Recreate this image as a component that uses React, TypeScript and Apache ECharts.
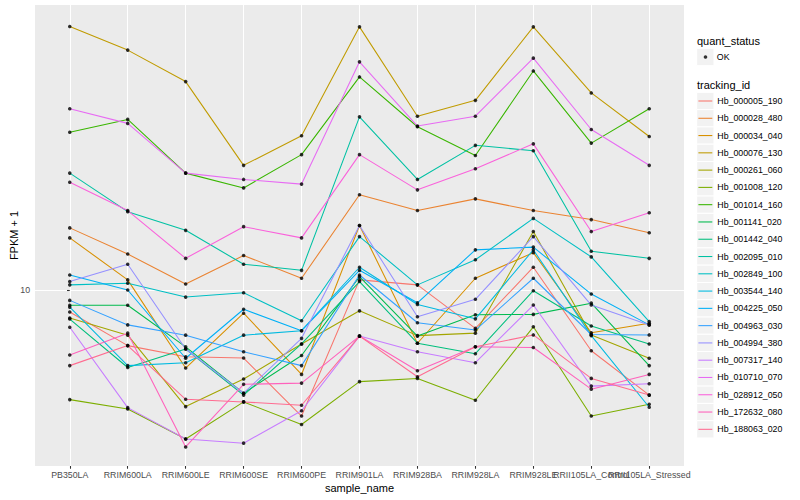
import React, { useEffect, useRef } from "react";
import * as echarts from "echarts";

// ---------- data ----------
const categories = [
  "PB350LA", "RRIM600LA", "RRIM600LE", "RRIM600SE", "RRIM600PE", "RRIM901LA",
  "RRIM928BA", "RRIM928LA", "RRIM928LE", "RRII105LA_Control", "RRII105LA_Stressed",
];

const trackingIds = [
  "Hb_000005_190", "Hb_000028_480", "Hb_000034_040", "Hb_000076_130", "Hb_000261_060",
  "Hb_001008_120", "Hb_001014_160", "Hb_001141_020", "Hb_001442_040", "Hb_002095_010",
  "Hb_002849_100", "Hb_003544_140", "Hb_004225_050", "Hb_004963_030", "Hb_004994_380",
  "Hb_007317_140", "Hb_010710_070", "Hb_028912_050", "Hb_172632_080", "Hb_188063_020",
];

const quantStatus = ["OK"];
const yTickValues = [10];

// FPKM + 1 per sample (same order as categories)
const Hb_000005_190 = [8.81, 7.26, 6.81, 6.76, 4.84, 10.6, 10.3, 8.02, 11.4, 7.05, 5.46];
const Hb_000028_480 = [14.3, 12.3, 10.35, 12.2, 10.7, 17.3, 15.8, 16.9, 15.8, 15.0, 13.9];
const Hb_000034_040 = [13.5, 10.6, 6.38, 8.75, 6.15, 14.5, 7.36, 10.7, 12.4, 7.82, 8.26];
const Hb_000076_130 = [45.6, 39.8, 33.2, 20.5, 24.3, 45.5, 27.2, 29.8, 45.5, 31.1, 24.2];
const Hb_000261_060 = [8.51, 7.71, 5.11, 5.99, 7.33, 8.87, 7.69, 7.8, 14.0, 7.72, 6.75];
const Hb_001008_120 = [5.32, 5.04, 4.24, 5.25, 4.61, 5.9, 6.01, 5.3, 8.09, 4.84, 5.18];
const Hb_001014_160 = [24.8, 26.7, 19.6, 18.0, 21.8, 34.1, 25.6, 21.7, 35.3, 23.3, 28.4];
const Hb_001141_020 = [9.16, 9.16, 7.21, 5.52, 6.86, 10.8, 7.67, 8.67, 8.69, 9.27, 6.47];
const Hb_001442_040 = [8.46, 6.4, 7.12, 5.46, 7.33, 10.5, 7.36, 6.93, 9.96, 8.13, 7.33];
const Hb_002095_010 = [19.6, 15.7, 14.1, 11.6, 11.2, 27.1, 18.9, 23.0, 22.3, 12.5, 12.0];
const Hb_002849_100 = [10.3, 10.4, 9.6, 9.84, 8.38, 13.6, 10.3, 11.9, 15.1, 12.1, 8.34];
const Hb_003544_140 = [9.06, 6.47, 6.58, 7.71, 7.91, 11.4, 9.2, 8.47, 12.6, 7.69, 5.09];
const Hb_004225_050 = [10.9, 10.0, 6.75, 8.95, 7.91, 11.2, 9.29, 12.6, 12.8, 9.77, 8.18];
const Hb_004963_030 = [9.42, 8.18, 7.71, 7.01, 6.47, 10.9, 8.28, 7.94, 10.7, 7.74, 7.72];
const Hb_004994_380 = [10.5, 11.6, 7.12, 5.52, 7.57, 14.5, 8.57, 9.48, 13.6, 9.17, 8.18];
const Hb_007317_140 = [8.07, 5.08, 4.24, 4.14, 4.99, 7.67, 7.01, 6.58, 9.17, 5.75, 5.83];
const Hb_010710_070 = [28.4, 26.1, 19.6, 18.9, 18.4, 37.2, 25.7, 27.2, 38.0, 25.2, 20.5];
const Hb_028912_050 = [18.6, 15.8, 12.0, 14.4, 13.5, 21.8, 17.8, 20.1, 23.2, 14.0, 15.6];
const Hb_172632_080 = [6.88, 7.8, 4.05, 5.81, 5.85, 7.67, 6.28, 7.21, 7.18, 5.65, 6.15];
const Hb_188063_020 = [6.47, 7.26, 5.33, 5.25, 5.15, 7.67, 6.07, 7.21, 7.72, 6.01, 5.46];

const seriesValues = [
  Hb_000005_190, Hb_000028_480, Hb_000034_040, Hb_000076_130, Hb_000261_060,
  Hb_001008_120, Hb_001014_160, Hb_001141_020, Hb_001442_040, Hb_002095_010,
  Hb_002849_100, Hb_003544_140, Hb_004225_050, Hb_004963_030, Hb_004994_380,
  Hb_007317_140, Hb_010710_070, Hb_028912_050, Hb_172632_080, Hb_188063_020,
];

// ---------- styles ----------
const colors = [
  "#F8766D", "#EA8331", "#D89000", "#C09B00", "#A3A500", "#7CAE00", "#39B600",
  "#00BB4E", "#00BF7D", "#00C1A3", "#00BFC4", "#00BAE0", "#00B0F6", "#35A2FF",
  "#9590FF", "#C77CFF", "#E76BF3", "#FA62DB", "#FF62BC", "#FF6C91",
];

const FONT = "'Liberation Sans', Arial, Helvetica, sans-serif";

export default function App() {
  const ref = useRef<HTMLDivElement>(null);

  useEffect(() => {
    if (!ref.current) return;
    const chart = echarts.init(ref.current, null, { renderer: "svg" });

    const catIdx = categories.map((_, i) => i);
    // labels split over two stacked (identical) x axes so that neighbouring
    // long labels may overlap, as in the reference, without being hidden
    const evenIdx = catIdx.filter((i) => i % 2 === 0);
    const oddIdx = catIdx.filter((i) => i % 2 === 1);
    const rowH = 17.28;
    const firstRow = 101;
    const okRow = 57;
    const keyX = 696.7;

    const lineSeries = trackingIds.map((id, k) => ({
      name: id,
      type: "line",
      color: colors[k],
      xAxisIndex: 0,
      data: seriesValues[k].map((v, i) => [i, v]),
      showSymbol: false,
      symbol: "none",
      lineStyle: { color: colors[k], width: 1.07 },
      silent: true,
      z: 2,
    }));

    const points = seriesValues.flatMap((arr) => arr.map((v, i) => [i, v]));

    const keyRects = trackingIds.map((_, k) => ({
      type: "rect",
      shape: { x: keyX, y: firstRow + k * rowH - rowH / 2, width: rowH, height: rowH },
      style: { fill: "#F2F2F2", stroke: "#FFFFFF", lineWidth: 1 },
      silent: true,
    }));

    const labelStyle = {
      formatter: (v: number) => categories[Math.round(v)] ?? "",
      color: "#4D4D4D",
      fontSize: 8.8,
      margin: 4.95,
      fontFamily: FONT,
      hideOverlap: false,
      showMinLabel: true,
      showMaxLabel: true,
    };

    const option: any = {
      animation: false,
      backgroundColor: "#FFFFFF",
      textStyle: { fontFamily: FONT },
      grid: {
        left: 35,
        right: 116,
        top: 5,
        bottom: 34,
        show: true,
        backgroundColor: "#EBEBEB",
        borderWidth: 0,
        containLabel: false,
        outerBoundsMode: "none",
      },
      xAxis: [
        {
          type: "value",
          position: "bottom",
          min: -0.6,
          max: 10.6,
          name: "sample_name",
          nameLocation: "middle",
          nameGap: 16,
          nameMoveOverlap: false,
          nameTextStyle: { color: "#000000", fontSize: 11, fontFamily: FONT },
          axisLine: { show: false },
          axisTick: {
            show: true,
            customValues: catIdx,
            length: 2.75,
            lineStyle: { color: "#333333", width: 1.07 },
          },
          axisLabel: { ...labelStyle, customValues: evenIdx },
          splitLine: { show: true, lineStyle: { color: "#FFFFFF", width: 1.07 } },
        },
        {
          type: "value",
          position: "bottom",
          offset: 0,
          min: -0.6,
          max: 10.6,
          axisLine: { show: false },
          axisTick: { show: false, customValues: oddIdx },
          axisLabel: { ...labelStyle, customValues: oddIdx },
          splitLine: { show: false },
        },
      ],
      yAxis: {
        type: "log",
        logBase: 10,
        min: 3.63,
        max: 51.6,
        name: "FPKM + 1",
        nameLocation: "middle",
        nameRotate: 90,
        nameGap: 16,
        nameMoveOverlap: false,
        nameTextStyle: { color: "#000000", fontSize: 11, fontFamily: FONT },
        axisLine: { show: false },
        axisTick: {
          show: true,
          customValues: yTickValues,
          length: 2.75,
          lineStyle: { color: "#333333", width: 1.07 },
        },
        axisLabel: {
          customValues: yTickValues,
          formatter: (v: number) => String(Math.round(v)),
          color: "#4D4D4D",
          fontSize: 8.8,
          margin: 4.95,
          fontFamily: FONT,
          showMinLabel: true,
          showMaxLabel: true,
        },
        splitLine: { show: true, lineStyle: { color: "#FFFFFF", width: 1.07 } },
        minorSplitLine: { show: false },
      },
      legend: [
        {
          orient: "vertical",
          left: 698.4,
          top: firstRow - rowH / 2,
          padding: 0,
          itemGap: 0,
          itemWidth: 13.9,
          itemHeight: 1.07,
          icon: "rect",
          selectedMode: false,
          data: trackingIds,
          textStyle: { fontSize: 8.8, color: "#000000", lineHeight: rowH, fontFamily: FONT },
        },
        {
          orient: "vertical",
          left: 703.7,
          top: okRow - rowH / 2,
          padding: 0,
          itemGap: 0,
          itemWidth: 3.6,
          itemHeight: 3.6,
          icon: "circle",
          selectedMode: false,
          data: quantStatus.map((n) => ({ name: n, itemStyle: { color: "#000000" } })),
          textStyle: {
            fontSize: 8.8,
            color: "#000000",
            lineHeight: rowH,
            fontFamily: FONT,
            padding: [0, 0, 0, 4.5],
          },
        },
      ],
      graphic: [
        {
          type: "text",
          x: 697,
          y: 40.5,
          silent: true,
          style: {
            text: "quant_status",
            fill: "#000000",
            fontSize: 11,
            fontFamily: FONT,
            verticalAlign: "middle",
            align: "left",
          },
        },
        {
          type: "rect",
          silent: true,
          shape: { x: keyX, y: okRow - rowH / 2, width: rowH, height: rowH },
          style: { fill: "#F2F2F2", stroke: "#FFFFFF", lineWidth: 1 },
        },
        {
          type: "text",
          x: 697,
          y: 85,
          silent: true,
          style: {
            text: "tracking_id",
            fill: "#000000",
            fontSize: 11,
            fontFamily: FONT,
            verticalAlign: "middle",
            align: "left",
          },
        },
        ...keyRects,
      ],
      series: [
        ...lineSeries,
        {
          name: quantStatus[0],
          type: "scatter",
          xAxisIndex: 0,
          data: points,
          symbol: "circle",
          symbolSize: 3.6,
          itemStyle: { color: "#000000" },
          silent: true,
          z: 3,
        },
      ],
    };

    chart.setOption(option);
    return () => chart.dispose();
  }, []);

  return (
    <div
      ref={ref}
      style={{ position: "fixed", left: 0, top: 0, width: 800, height: 500 }}
    />
  );
}
